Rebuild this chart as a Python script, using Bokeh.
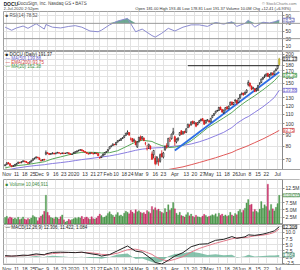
import numpy as np
import pandas as pd
from bokeh.plotting import figure
from bokeh.layouts import column
from bokeh.models import (ColumnDataSource, FixedTicker, Range1d, Label, Span, Grid,
                          NumeralTickFormatter, BoxAnnotation)
from bokeh.core.properties import value
from bokeh.embed import file_html
from bokeh.resources import INLINE

# ---------------- data ----------------
holidays = ["2019-11-28", "2019-12-25", "2020-01-01", "2020-01-20", "2020-02-17",
            "2020-04-10", "2020-05-25"]
dates = pd.bdate_range("2019-10-31", "2020-07-02", freq="C", holidays=holidays)
date_str = [d.strftime("%Y-%m-%d") for d in dates]

open_ = [66.0,66.8,68.0,67.3,66.0,65.6,65.8,66.6,67.5,68.2,68.0,68.7,69.1,68.8,68.0,67.7,68.5,69.5,70.7,71.2,71.8,
71.3,69.8,69.6,70.3,74.0,75.0,74.5,73.9,74.3,74.8,74.3,74.9,75.2,74.6,74.4,74.9,74.5,74.8,75.1,74.3,73.8,
74.5,74.9,75.7,76.5,77.0,77.4,76.7,76.0,75.3,74.5,74.3,75.1,74.6,74.4,74.8,74.5,71.6,71.5,72.8,73.6,75.4,
76.2,78.0,79.9,80.6,81.6,81.2,83.5,84.8,84.9,86.5,87.5,89.2,91.0,91.8,86.0,86.4,84.2,84.0,79.5,
84.2,87.9,86.3,86.9,82.5,78.0,80.1,80.3,74.2,73.5,71.0,68.5,69.0,68.9,74.5,71.8,77.3,80.6,80.2,84.1,86.2,91.0,
88.0,83.5,85.6,89.4,93.4,90.8,92.9,92.0,96.4,98.9,99.1,102.8,100.3,101.2,99.4,101.5,103.4,105.6,103.8,101.0,103.2,
103.3,102.0,106.5,109.0,111.6,114.0,114.4,118.2,115.6,111.9,115.0,118.6,116.5,120.6,124.5,121.5,126.0,126.5,123.9,129.4,
134.6,136.1,134.5,137.0,148.0,150.5,145.8,142.0,142.1,140.4,139.8,149.9,151.2,156.5,160.1,161.5,165.5,160.2,162.8,166.3,163.9,170.2,
174.0,181.0]
high = [67.0,68.2,68.4,67.6,66.3,66.4,67.1,67.7,68.6,68.5,68.9,69.6,69.4,69.0,68.3,68.8,69.6,70.9,71.5,72.4,72.1,
71.6,70.0,70.5,70.6,76.8,75.4,74.9,74.8,75.3,75.0,75.1,75.7,75.4,74.9,75.2,75.1,74.9,75.4,75.2,74.5,74.3,
75.6,76.1,76.7,77.3,77.8,77.6,77.0,76.3,75.6,74.8,75.3,75.4,74.9,75.3,75.0,74.7,72.0,72.9,74.3,75.5,76.3,
77.8,79.9,80.8,82.3,82.0,83.5,84.9,85.6,86.7,87.6,89.3,91.5,93.8,92.0,87.5,87.0,86.5,85.1,84.0,
87.9,89.2,88.5,87.4,83.6,80.9,82.2,80.8,76.0,77.2,72.8,72.5,71.0,74.4,76.9,75.5,80.6,82.5,87.0,87.9,90.8,96.2,
88.9,86.6,87.5,92.3,93.9,93.0,93.4,95.8,100.2,99.8,102.6,103.4,102.6,101.5,101.8,104.0,105.3,105.9,104.2,104.1,105.0,
104.0,106.1,109.3,111.5,114.0,115.1,118.6,118.9,116.2,115.3,118.2,119.0,120.0,124.9,125.2,124.3,127.9,127.1,129.6,134.5,
136.7,136.5,138.1,141.2,154.6,151.0,146.7,144.9,143.0,143.5,147.6,151.4,157.1,159.6,163.8,165.3,166.6,164.7,167.2,166.9,170.0,174.5,
180.1,193.46]
low = [65.6,66.5,66.9,65.8,64.9,65.2,65.5,66.2,67.2,67.4,67.6,68.3,68.3,67.8,67.0,67.4,68.2,69.3,70.2,70.9,71.0,
69.8,68.7,69.2,69.4,73.2,74.1,73.3,73.6,74.0,73.8,74.0,74.6,74.4,73.9,74.1,74.2,74.3,74.6,74.0,73.5,73.4,
74.2,74.6,75.3,76.1,76.6,76.2,75.8,75.0,74.2,73.6,74.0,74.4,73.8,74.1,74.0,72.5,70.6,71.2,72.6,73.3,75.0,
75.9,77.8,79.2,80.3,80.8,81.0,83.1,84.2,84.6,86.0,87.2,89.0,89.9,88.7,84.9,83.2,83.6,80.9,78.8,
83.0,84.6,85.4,84.2,80.8,76.8,77.9,77.1,69.8,70.9,66.3,66.8,65.9,68.0,71.6,70.9,76.5,78.1,79.8,83.7,85.6,89.6,
80.5,82.4,84.2,88.6,89.6,89.8,90.6,91.5,95.9,96.6,98.4,99.6,99.8,96.8,98.6,100.9,102.5,102.8,99.1,100.4,102.6,
101.2,101.5,106.0,108.4,111.0,112.9,113.8,115.0,111.8,110.6,114.4,115.4,116.0,120.1,120.4,120.8,123.5,121.3,123.2,128.8,
133.2,132.4,133.9,135.8,145.5,144.3,140.2,140.9,137.4,137.9,139.2,147.2,150.8,155.3,158.0,160.6,159.8,158.6,161.9,162.0,163.1,169.4,
172.3,178.81]
close = [66.5,67.8,67.2,66.1,65.4,65.9,66.8,67.4,68.3,67.9,68.6,69.2,68.7,68.1,67.6,68.4,69.3,70.6,71.1,71.9,71.4,
70.2,69.4,70.1,69.8,75.2,74.6,73.8,74.4,74.9,74.1,74.8,75.3,74.7,74.2,74.9,74.5,74.8,75.1,74.3,73.9,74.1,
75.3,75.9,76.4,76.9,77.2,76.6,76.1,75.4,74.6,74.1,75.0,74.7,74.2,74.9,74.4,72.8,71.3,72.6,74.0,75.2,75.8,
77.4,79.6,80.4,81.9,81.3,83.2,84.6,85.1,86.4,87.2,88.9,91.1,92.3,89.6,86.1,83.9,85.4,81.2,83.5,
87.6,85.2,88.1,84.9,82.7,78.4,81.6,78.2,70.4,76.8,67.3,71.9,68.8,73.6,72.1,74.9,80.2,79.4,86.7,85.3,90.4,92.4,
84.0,85.8,86.9,91.8,90.2,92.6,91.9,95.3,99.6,98.4,102.1,100.6,101.9,97.8,101.3,103.2,104.9,103.4,99.7,103.6,104.5,
102.1,105.8,108.7,110.9,113.6,114.2,117.9,115.3,112.6,114.8,117.7,116.1,119.4,124.3,121.2,123.8,127.0,123.1,129.0,134.1,
136.0,133.8,137.2,140.3,151.2,146.1,141.3,143.6,138.2,142.1,147.0,150.3,156.4,158.9,161.2,164.6,160.7,162.9,166.5,163.4,169.5,172.2,
178.96,191.37]
volume_m = [2.4,2.8,2.1,2.6,2.3,1.9,2.2,1.8,2.5,1.7,2.0,2.6,1.9,1.6,2.1,1.8,2.2,3.1,2.7,2.4,1.3,
2.3,2.9,3.4,4.6,10.1,4.2,3.1,2.4,2.2,2.0,2.6,2.3,1.9,2.7,3.3,1.6,0.9,1.2,1.8,1.5,1.7,
2.0,2.3,2.1,2.5,2.2,2.8,1.9,2.4,2.6,2.1,1.8,2.7,2.0,1.9,2.2,2.9,3.6,3.1,2.4,2.6,3.0,
3.8,4.4,3.5,3.2,2.6,3.4,4.1,3.0,3.3,2.8,3.9,4.6,4.2,3.7,4.9,4.3,3.8,5.1,4.4,
4.7,4.2,3.9,4.1,3.6,4.8,4.4,3.9,6.2,5.1,5.8,4.9,5.3,4.6,4.2,3.9,5.5,4.3,6.8,4.9,5.6,7.6,
5.4,3.9,3.3,4.2,3.1,2.9,2.6,3.4,4.1,3.0,3.6,2.8,2.5,3.2,2.7,2.6,2.4,2.9,3.5,3.1,2.6,
2.8,3.0,3.4,3.1,3.7,2.7,3.9,3.2,3.6,2.9,3.3,2.8,3.1,4.2,3.3,2.9,3.8,3.4,4.6,5.2,
4.1,4.9,5.6,7.4,8.6,6.7,7.0,4.4,5.2,4.6,4.1,5.3,7.9,5.6,6.8,6.2,13.9,4.8,6.9,5.4,4.7,5.9,
7.2,10.05]

# indicator readings (sampled dates)
ind_dates = ["2019-10-31","2019-11-06","2019-11-11","2019-11-15","2019-11-20","2019-11-27","2019-12-05",
             "2019-12-06","2019-12-12","2019-12-19","2019-12-27","2020-01-03","2020-01-09","2020-01-16",
             "2020-01-24","2020-01-28","2020-02-04","2020-02-11","2020-02-20","2020-02-27","2020-03-04",
             "2020-03-12","2020-03-16","2020-03-20","2020-03-26","2020-04-01","2020-04-08","2020-04-16",
             "2020-04-23","2020-04-30","2020-05-07","2020-05-14","2020-05-21","2020-05-27","2020-06-03",
             "2020-06-05","2020-06-11","2020-06-18","2020-06-24","2020-06-29","2020-07-02"]
ma50 = [63.0,63.8,64.4,65.0,65.5,66.1,66.6,66.8,67.4,68.0,68.7,69.4,70.1,70.8,71.6,71.9,72.7,73.8,75.4,76.9,77.8,
        78.6,78.8,79.0,79.6,80.2,80.8,81.9,83.7,86.0,88.9,92.0,96.5,100.6,106.0,107.6,112.3,118.6,124.8,130.2,139.88]
ma20 = [64.5,65.5,66.0,66.4,66.8,67.7,68.6,69.0,70.6,72.0,73.5,74.6,75.3,75.4,75.2,74.9,75.1,76.6,80.3,83.5,85.0,
        84.0,82.6,80.6,79.0,79.4,80.8,84.5,90.0,96.1,101.0,106.3,112.2,117.0,124.3,127.0,132.6,140.5,147.7,153.9,162.38]
ema200 = [46.4,47.0,47.4,48.0,48.5,49.3,50.0,50.1,50.8,51.7,52.8,53.6,54.4,55.4,56.2,56.3,57.0,57.9,59.3,60.7,61.6,
          62.9,63.0,63.2,63.5,64.2,65.2,66.6,68.1,69.7,71.4,73.3,75.3,77.1,79.5,80.6,83.0,86.1,89.0,91.3,93.75]
rsi = [60,52,58,63,57,69,55,67,60,58,62,64,60,50,48,52,66,76,83,48,55,38,34,44,57,50,60,66,66,62,72,68,74,62,70,
       78,60,73,71,74,78.52]
macd = [0.6,0.4,0.5,0.8,0.7,1.3,0.9,1.3,1.9,2.0,1.9,1.8,2.0,1.4,0.9,0.4,1.0,2.6,4.5,2.4,2.0,-0.9,-2.2,-2.8,-1.3,
        0.4,1.8,4.2,5.2,5.4,6.8,7.2,8.3,7.6,8.2,9.0,8.8,9.3,10.0,10.6,12.306]
signal = [0.3,0.4,0.45,0.55,0.65,0.85,1.0,1.05,1.4,1.7,1.85,1.85,1.9,1.75,1.4,1.1,0.95,1.6,3.0,3.2,2.6,1.1,0.2,
          -1.0,-1.6,-0.9,0.2,2.0,3.5,4.6,5.6,6.5,7.4,7.8,7.9,8.1,8.6,8.9,9.4,10.0,11.422]

trend_dates = ["2020-04-01", "2020-07-02"]
trend_prices = [76.8, 168.0]
resist_dates = ["2020-04-14", "2020-07-02"]
resist_prices = [178.8, 178.8]

tick_dates = ["2019-11-01","2019-11-11","2019-11-18","2019-11-25","2019-12-02","2019-12-09","2019-12-16",
              "2019-12-23","2020-01-02","2020-01-13","2020-01-21","2020-01-27","2020-02-03","2020-02-10",
              "2020-02-18","2020-02-24","2020-03-02","2020-03-09","2020-03-16","2020-03-23","2020-04-01",
              "2020-04-13","2020-04-20","2020-04-27","2020-05-01","2020-05-11","2020-05-18","2020-05-26",
              "2020-06-01","2020-06-08","2020-06-15","2020-06-22","2020-07-01"]
tick_labels = ["Nov","11","18","25","Dec","9","16","23","2020","13","21","27","Feb","10","18","24","Mar","9",
               "16","23","Apr","13","20","27","May","11","18","26","Jun","8","15","22","Jul"]

# ---------------- helpers ----------------
pos = {d: i for i, d in enumerate(date_str)}
N = len(close)
xs = list(range(N))
ind_x = [pos[d] for d in ind_dates]
tick_x = [pos[d] for d in tick_dates]

FONT = "Liberation Sans"
FW = 297
AX = N + 1.0            # data x where the price axis sits
XEND = -1.0 + (AX + 1.0) * FW / 279.0
GRID = "#e2e2e2"
xr = Range1d(-1.0, XEND)


def make_fig(fh, top, bottom, y_range, y_type="linear", xaxis=False):
    p = figure(frame_width=FW, frame_height=fh, min_border_left=3, min_border_right=0,
               min_border_top=top, min_border_bottom=bottom, x_range=xr, y_range=y_range,
               y_axis_type=y_type, y_axis_location="right",
               x_axis_location="below" if xaxis else None,
               toolbar_location=None, output_backend="svg",
               background_fill_color="white", border_fill_color="white")
    p.outline_line_color = "#a0a0a0"
    p.xgrid.visible = False
    p.ygrid.visible = False
    p.add_layout(Grid(dimension=0, ticker=FixedTicker(ticks=tick_x), grid_line_color=GRID))
    ax = p.yaxis[0]
    ax.fixed_location = AX
    ax.axis_line_color = "#8a8a8a"
    ax.major_tick_line_color = "#8a8a8a"
    ax.major_tick_out = 2
    ax.major_tick_in = 0
    ax.minor_tick_line_color = None
    ax.major_label_standoff = 1
    ax.major_label_text_font_size = "5px"
    ax.major_label_text_font = FONT
    ax.major_label_text_color = "#333333"
    if xaxis:
        xa = p.xaxis[0]
        xa.ticker = FixedTicker(ticks=tick_x)
        xa.major_label_overrides = {t: l for t, l in zip(tick_x, tick_labels)}
        xa.major_tick_line_color = None
        xa.major_tick_out = 0
        xa.major_tick_in = 0
        xa.minor_tick_line_color = None
        xa.axis_line_color = "#a0a0a0"
        xa.major_label_standoff = 1
        xa.major_label_text_font_size = "5px"
        xa.major_label_text_font = FONT
        xa.major_label_text_color = "#333333"
    return p


def ylines(p, ticks):
    p.add_layout(Grid(dimension=1, ticker=FixedTicker(ticks=ticks), grid_line_color=GRID))
    p.add_layout(BoxAnnotation(left=AX, fill_color="white", fill_alpha=1.0, line_color=None,
                               level="underlay"))


def text(p, x, y, t, color="#222222", size="4.5px"):
    p.add_layout(Label(x=x, y=y, x_units="screen", y_units="screen", text=t, text_color=color,
                       text_font=FONT, text_font_size=size, text_baseline="middle"))


def vbox(p, yv, t, color, bg="white", size="4.5px"):
    p.add_layout(Label(x=AX + 0.3, y=yv, x_units="data", y_units="data", text=t, text_color=color,
                       text_font=FONT, text_font_size=size, text_baseline="middle",
                       background_fill_color=bg, border_line_color=color, border_line_width=0.6))


# ---------------- Header ----------------
f0 = figure(frame_width=FW, frame_height=11, min_border_left=3, min_border_right=0,
            min_border_top=0, min_border_bottom=0, x_range=Range1d(0, FW), y_range=Range1d(0, 11),
            x_axis_location=None, y_axis_location=None, toolbar_location=None,
            output_backend="svg", background_fill_color="white", border_fill_color="white")
f0.outline_line_color = None
f0.xgrid.visible = False
f0.ygrid.visible = False
f0.text(x=[0], y=[8.6], text=["DOCU"], text_font=value(FONT), text_font_size=value("5px"),
        text_font_style="bold", text_baseline="middle", text_color="#222222")
f0.text(x=[14], y=[8.6], text=["DocuSign, Inc.  Nasdaq GS • BATS"], text_font=value(FONT),
        text_font_size=value("4.5px"), text_baseline="middle", text_color="#444444")
f0.text(x=[0], y=[4.4], text=["2-Jul-2020 2:52pm"], text_font=value(FONT),
        text_font_size=value("4.2px"), text_baseline="middle", text_color="#444444")
f0.text(x=[293], y=[8.6], text=["© StockCharts.com"], text_font=value(FONT),
        text_font_size=value("4px"), text_baseline="middle", text_align="right", text_color="#777777")
f0.text(x=[293], y=[4.4],
        text=["Open 181.00  High 193.46  Low 178.81  Last 191.37  Volume 10.0M  Chg +12.41 (+6.93%)"],
        text_font=value(FONT), text_font_size=value("4px"), text_baseline="middle",
        text_align="right", text_color="#333333")

# ---------------- RSI panel ----------------
f1 = make_fig(39, 0, 1, Range1d(-1, 101))
f1.yaxis[0].ticker = FixedTicker(ticks=[10, 30, 50, 70, 90])
ylines(f1, [10, 50, 90])
f1.add_layout(Span(location=70, dimension="width", line_color="#9a9a9a", line_width=1))
f1.add_layout(Span(location=30, dimension="width", line_color="#9a9a9a", line_width=1))
rsi_hi = np.maximum(np.array(rsi, dtype=float), 70.0)
f1.varea(x=ind_x, y1=[70.0] * len(ind_x), y2=rsi_hi, fill_color="#5e9e88", fill_alpha=0.9)
f1.line(ind_x, rsi, line_color="#8c8cd0", line_width=1)
vbox(f1, rsi[-1], "78.52", "#6a6ab8")
text(f1, 2, 35.5, "■ RSI(14) 78.52", color="#555555")

# ---------------- Price panel ----------------
f2 = make_fig(118, 0, 8, Range1d(63.5, 206), y_type="log", xaxis=True)
price_ticks = [70, 80, 90, 100, 110, 120, 130, 140, 150, 160, 170, 180, 200]
f2.yaxis[0].ticker = FixedTicker(ticks=price_ticks)
f2.yaxis[0].formatter = NumeralTickFormatter(format="0")
ylines(f2, [70, 80, 90, 100, 110, 120, 130, 140, 150, 160, 170, 180, 190, 200])

prev = [close[0]] + close[:-1]
line_col = ["#e01b1b" if c < pc else "#111111" for c, pc in zip(close, prev)]
fill_col = [lc if c < o else "#ffffff" for lc, c, o in zip(line_col, close, open_)]
line_col[-1] = "#a89a20"
fill_col[-1] = "#e8d84a"
csrc = ColumnDataSource(dict(x=xs, high=high, low=low,
                             top=[max(o, c) for o, c in zip(open_, close)],
                             bottom=[min(o, c) for o, c in zip(open_, close)],
                             lc=line_col, fc=fill_col))
f2.line(ind_x, ema200, line_color="#e05a5a", line_width=1)
f2.line(ind_x, ma50, line_color="#8a7ee0", line_width=1)
f2.line(ind_x, ma20, line_color="#5aa85a", line_width=1)
f2.line([pos[d] for d in trend_dates], trend_prices, line_color="#2e6ee6", line_width=1.8)
f2.segment(x0="x", y0="low", x1="x", y1="high", line_color="lc", line_width=0.8, source=csrc)
f2.vbar(x="x", width=0.7, top="top", bottom="bottom", fill_color="fc", line_color="lc",
        line_width=0.6, source=csrc)
f2.line([pos[d] for d in resist_dates], resist_prices, line_color="#222222", line_width=1)

vbox(f2, close[-1], "191.37", "#222222", bg="#ffffff")
vbox(f2, ma20[-1], "162.38", "#3c943c")
vbox(f2, ma50[-1], "139.88", "#6a5ed0")
vbox(f2, ema200[-1], "93.75", "#d04040")
text(f2, 2, 115, "■ DOCU (Daily) 191.37", color="#222222")
text(f2, 2, 111, "— MA(50) 139.88", color="#6a5ed0")
text(f2, 2, 107, "— EMA(200) 93.75", color="#d04040")
text(f2, 2, 103, "— MA(20) 162.38", color="#3c943c")

# ---------------- Volume panel ----------------
f3 = make_fig(45, 0, 0, Range1d(0, 15.5))
f3.yaxis[0].ticker = FixedTicker(ticks=[2.5, 5, 7.5, 10, 12.5])
f3.yaxis[0].major_label_overrides = {2.5: "2.5M", 5: "5.0M", 7.5: "7.5M", 10: "10.0M", 12.5: "12.5M"}
ylines(f3, [2.5, 5, 7.5, 10, 12.5])
vol_col = ["#c8346a" if c < pc else "#4f9a4f" for c, pc in zip(close, prev)]
f3.vbar(x=xs, width=0.8, top=volume_m, bottom=0, fill_color=vol_col, line_color=vol_col, line_width=0.3)
vbox(f3, volume_m[-1], "10,046,911", "#3c8a3c", size="3.4px")
text(f3, 2, 40, "■ Volume 10,046,911", color="#3c8a3c")

# ---------------- MACD panel ----------------
f4 = make_fig(40, 0, 8, Range1d(-3.0, 13.2), xaxis=True)
f4.yaxis[0].ticker = FixedTicker(ticks=[-2.5, 0, 2.5, 5, 7.5, 10])
f4.yaxis[0].major_label_overrides = {-2.5: "-2.5", 0: "0.0", 2.5: "2.5", 5: "5.0", 7.5: "7.5", 10: "10.0"}
ylines(f4, [-2.5, 0, 2.5, 5, 7.5, 10, 12.5])
hist = [m - s for m, s in zip(macd, signal)]
f4.varea(x=ind_x, y1=[0.0] * len(ind_x), y2=hist, fill_color="#5fae90", fill_alpha=0.75)
f4.line(ind_x, signal, line_color="#e07a8a", line_width=1)
f4.line(ind_x, macd, line_color="#222222", line_width=1)
vbox(f4, macd[-1], "12.306", "#222222")
vbox(f4, hist[-1], "1.084", "#3c8a6a")
text(f4, 2, 37.5, "— MACD(12,26,9) 12.306, 11.422, 1.084", color="#222222")

layout = column(f0, f1, f2, f3, f4, spacing=0)
html = file_html(layout, INLINE, "DOCU")
open("out.html", "w").write(html)
